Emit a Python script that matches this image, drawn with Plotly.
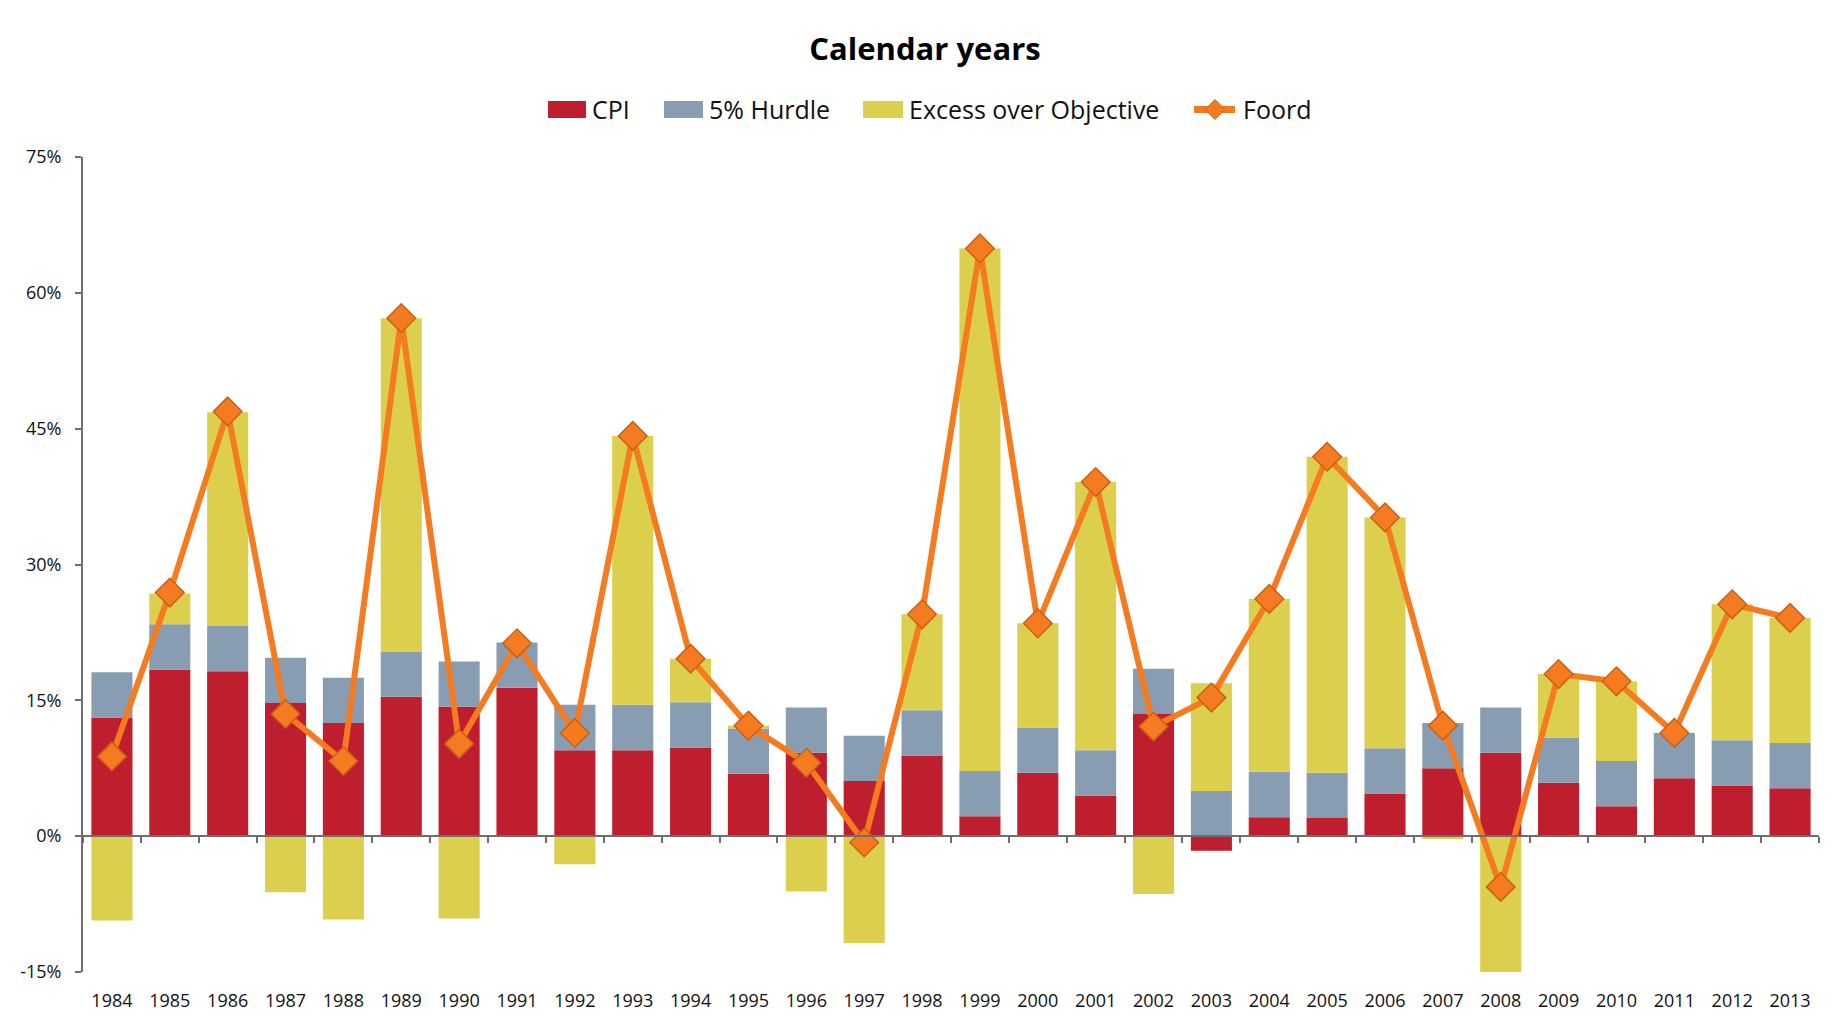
import plotly.graph_objects as go

years = [str(y) for y in range(1984, 2014)]

cpi = [13.1, 18.4, 18.2, 14.7, 12.5, 15.4, 14.3, 16.4, 9.5, 9.5,
       9.8, 6.9, 9.2, 6.1, 8.9, 2.2, 7.0, 4.5, 13.5, -1.6,
       2.1, 2.0, 4.7, 7.5, 9.2, 5.9, 3.3, 6.4, 5.6, 5.3]

hurdle = [5.0] * 30

excess = [-9.3, 3.4, 23.6, -6.2, -9.2, 36.8, -9.1, 0.0, -3.1, 29.7,
          4.8, 0.3, -6.1, -11.8, 10.6, 57.7, 11.5, 29.6, -6.4, 11.9,
          19.1, 34.9, 25.5, -0.3, -19.8, 7.0, 8.8, 0.0, 15.0, 13.8]

foord = [8.8, 26.9, 46.9, 13.5, 8.3, 57.2, 10.2, 21.3, 11.4, 44.2,
         19.6, 12.2, 8.1, -0.7, 24.5, 64.9, 23.5, 39.1, 12.1, 15.3,
         26.2, 41.9, 35.2, 12.2, -5.6, 17.9, 17.1, 11.4, 25.6, 24.1]

y_ticks = [-15, 0, 15, 30, 45, 60, 75]
y_labels = ["-15%", "0%", "15%", "30%", "45%", "60%", "75%"]

RED = "#BE1E2D"
BLUE = "#889DB2"
YELLOW = "#DDCF4E"
ORANGE = "#F47B20"
ORANGE_EDGE = "#C8601A"
AXIS = "#6E6E6E"
FONT = "Open Sans"

W, H = 1834, 1016
ML, MR, MT, MB = 75, 23, 149, 52


def px_x(px):
    return (px - ML) / (W - ML - MR)


def px_y(py):
    return (H - MB - py) / (H - MT - MB)


fig = go.Figure()
fig.add_trace(go.Bar(x=years, y=cpi, name="CPI", marker=dict(color=RED, line=dict(width=0)),
                     xaxis="x", yaxis="y", showlegend=False))
fig.add_trace(go.Bar(x=years, y=hurdle, name="5% Hurdle", marker=dict(color=BLUE, line=dict(width=0)),
                     xaxis="x", yaxis="y", showlegend=False))
fig.add_trace(go.Bar(x=years, y=excess, name="Excess over Objective",
                     marker=dict(color=YELLOW, line=dict(width=0)), xaxis="x", yaxis="y",
                     showlegend=False))
fig.add_trace(go.Scatter(x=years, y=foord, name="Foord", mode="lines+markers",
                         line=dict(color=ORANGE, width=6),
                         marker=dict(symbol="diamond", size=22, color=ORANGE,
                                     line=dict(color=ORANGE_EDGE, width=1.5)),
                         xaxis="x2", yaxis="y", showlegend=False))

ymin, ymax = y_ticks[0], y_ticks[-1]

# custom legend (large swatches like the original)
shapes = []
annotations = []
leg_cy = 101.5
swatches = [("CPI", RED, 540, 578, 582),
            ("5% Hurdle", BLUE, 656, 695, 699),
            ("Excess over Objective", YELLOW, 855, 895, 899)]
for name, col, x0, x1, tx in swatches:
    shapes.append(dict(type="rect", xref="paper", yref="paper",
                       x0=px_x(x0), x1=px_x(x1), y0=px_y(leg_cy - 8.5), y1=px_y(leg_cy + 8.5),
                       fillcolor=col, line=dict(width=0), layer="above"))
    annotations.append(dict(text=name, xref="paper", yref="paper", x=px_x(tx), y=px_y(leg_cy),
                            xanchor="left", yanchor="middle", showarrow=False,
                            font=dict(family=FONT, size=25, color="#111111")))
# Foord legend entry
shapes.append(dict(type="line", xref="paper", yref="paper",
                   x0=px_x(1186), x1=px_x(1227), y0=px_y(leg_cy), y1=px_y(leg_cy),
                   line=dict(color=ORANGE, width=7), layer="above"))
dcx, dhw = 1207, 10
shapes.append(dict(type="path", xref="paper", yref="paper",
                   path=(f"M {px_x(dcx - dhw)},{px_y(leg_cy)} L {px_x(dcx)},{px_y(leg_cy - dhw)} "
                         f"L {px_x(dcx + dhw)},{px_y(leg_cy)} L {px_x(dcx)},{px_y(leg_cy + dhw)} Z"),
                   fillcolor=ORANGE, line=dict(color=ORANGE_EDGE, width=1), layer="above"))
annotations.append(dict(text="Foord", xref="paper", yref="paper", x=px_x(1233), y=px_y(leg_cy),
                        xanchor="left", yanchor="middle", showarrow=False,
                        font=dict(family=FONT, size=25, color="#111111")))

fig.update_layout(
    width=W, height=H,
    paper_bgcolor="white", plot_bgcolor="white",
    barmode="relative", bargap=0.29,
    margin=dict(l=ML, r=MR, t=MT, b=MB, autoexpand=False),
    font=dict(family=FONT, color="#111111"),
    showlegend=False,
    title=dict(text="<b>Calendar years</b>", x=0.5, xanchor="center",
               yref="container", y=1 - 41 / H, yanchor="middle",
               font=dict(family=FONT, size=31, color="#000000")),
    shapes=shapes,
    annotations=annotations,
    xaxis=dict(type="category", categoryarray=years, range=[-0.5, len(years) - 0.5],
               anchor="free", position=(0 - ymin) / (ymax - ymin),
               showline=True, linecolor=AXIS, linewidth=2,
               ticks="outside", tickson="boundaries", ticklen=6, tickwidth=2, tickcolor=AXIS,
               showticklabels=False, showgrid=False, zeroline=False, fixedrange=True),
    xaxis2=dict(type="category", categoryarray=years, range=[-0.5, len(years) - 0.5],
                overlaying="x", anchor="y", side="bottom",
                showline=False, ticks="", showgrid=False, zeroline=False,
                tickfont=dict(family=FONT, size=18, color="#111111"),
                ticklabelstandoff=16),
    yaxis=dict(range=[ymin, ymax], tickmode="array", tickvals=y_ticks, ticktext=y_labels,
               showline=True, linecolor=AXIS, linewidth=2,
               ticks="outside", ticklen=6, tickwidth=2, tickcolor=AXIS,
               showgrid=False, zeroline=False,
               tickfont=dict(family=FONT, size=18, color="#111111"),
               ticklabelstandoff=10),
)

fig.write_html("out.html")
